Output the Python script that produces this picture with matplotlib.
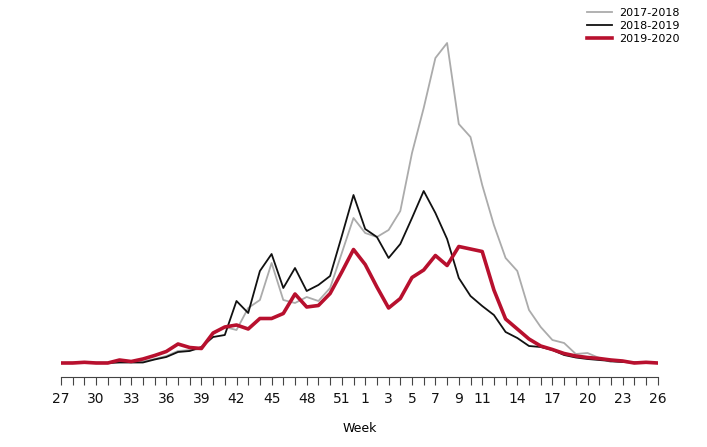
import matplotlib
matplotlib.use("Agg")
import matplotlib.pyplot as plt

# season weeks, week 27 to week 26 of next year (52 positions)
weeks = list(range(27, 53)) + list(range(1, 27))
tick_labels = ["27", "30", "33", "36", "39", "42", "45", "48", "51",
               "1", "3", "5", "7", "9", "11", "14", "17", "20", "23", "26"]

s2017 = [0, 0.5, 1, 0.5, 0.5, 1, 1, 1.5, 4, 7, 12, 13, 14, 29, 36, 33, 55, 63,
         100, 63, 60, 66, 62, 75, 110, 145, 130, 126, 133, 152, 210, 255, 305,
         320, 239, 226, 178, 138, 105, 92, 53, 36, 23, 20, 9, 10, 5, 1, 1, 0.5,
         0.5, 0]
s2018 = [0, 0, 0.5, 0, 0, 0.5, 0.5, 0.5, 3.5, 6, 11, 12, 16, 26, 28, 62, 50,
         92, 109, 75, 95, 72, 78, 87, 127, 168, 134, 126, 105, 119, 145, 172,
         150, 124, 85, 67, 57, 48, 31, 25, 17, 16, 13, 8, 5.5, 4, 3, 2, 1, 0.5,
         0, 0]
s2019 = [0, 0, 0.7, 0, 0, 3, 1.5, 4, 7.5, 11.5, 19, 15.5, 14.5, 30, 36, 38, 34,
         44.5, 44.5, 49.5, 69, 56, 57.5, 69.5, 91, 113.5, 98.5, 76, 55, 64.5,
         85.5, 93, 107.5, 97.5, 116.5, 114, 111.5, 73, 44, 34, 24, 17, 13.5,
         9.5, 7, 5.5, 4.5, 3, 2, 0, 0.7, 0]

pos = list(range(len(weeks)))

fig = plt.figure(figsize=(7.07, 4.47), dpi=100)
ax = fig.add_axes([61 / 707, 70 / 447, (657.7 - 61) / 707, (377 - 30) / 447])

ax.plot(pos, s2017, color="#ababab", lw=1.3, label="2017-2018")
ax.plot(pos, s2018, color="#111111", lw=1.3, label="2018-2019")
ax.plot(pos, s2019, color="#b8102e", lw=2.6, label="2019-2020")

ax.set_xlim(0, 51)
ax.set_ylim(-14, 333)

ax.set_xticks(pos, minor=True)
major = [pos[weeks.index(int(t), 0 if int(t) >= 27 else 26)] for t in tick_labels]
ax.set_xticks(major)
ax.set_xticklabels(tick_labels)
ax.tick_params(axis="x", which="both", direction="out", length=5.5, width=0.8,
               color="#444444")
ax.tick_params(axis="x", which="major", labelsize=10, pad=5, labelcolor="#111111")
ax.set_yticks([])

for s in ["top", "right", "left"]:
    ax.spines[s].set_visible(False)
ax.spines["bottom"].set_color("#444444")
ax.spines["bottom"].set_linewidth(0.8)

ax.set_xlabel("Week", fontsize=9, labelpad=12)

fig.legend(loc="upper left", bbox_to_anchor=(578 / 707, 1.002), frameon=False,
           fontsize=8, handlelength=2.3, handletextpad=0.6, labelspacing=0.28,
           borderpad=0.3)

fig.savefig("out.png", dpi=100)
